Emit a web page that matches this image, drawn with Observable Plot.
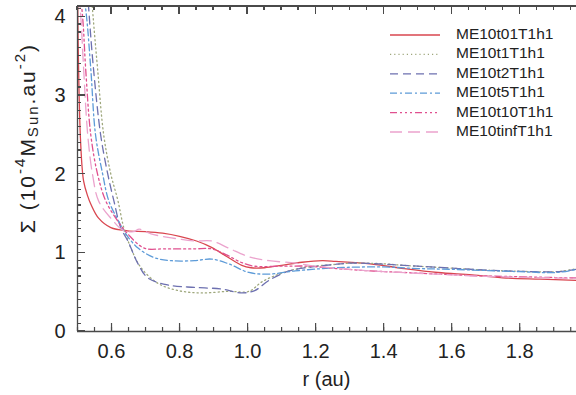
<!DOCTYPE html>
<html><head><meta charset="utf-8">
<script src="https://cdn.jsdelivr.net/npm/d3@7"></script>
<script src="https://cdn.jsdelivr.net/npm/@observablehq/plot@0.6"></script>
<style>body{margin:0;background:#fff} svg{display:block}</style>
</head><body><div id="chart"></div>
<script>
// ---- data (r in au, Sigma in 1e-4 Msun/au^2) ----
const seriesNames = ["ME10t01T1h1","ME10t1T1h1","ME10t2T1h1","ME10t5T1h1","ME10t10T1h1","ME10tinfT1h1"];
const t01 = [[0.500,4.6],[0.502,3.65],[0.509,2.42],[0.518,1.91],[0.530,1.72],[0.539,1.62],[0.562,1.44],[0.598,1.32],[0.647,1.28],[0.700,1.27],[0.750,1.25],[0.800,1.21],[0.850,1.15],[0.894,1.07],[0.940,0.95],[0.983,0.84],[1.010,0.81],[1.050,0.81],[1.100,0.84],[1.160,0.88],[1.220,0.90],[1.260,0.89],[1.360,0.86],[1.460,0.80],[1.560,0.75],[1.660,0.72],[1.760,0.68],[1.860,0.665],[1.967,0.65]];
const t1 = [[0.525,5.2],[0.544,4.1],[0.559,3.34],[0.577,2.5],[0.598,2.0],[0.619,1.66],[0.636,1.32],[0.657,1.06],[0.687,0.81],[0.737,0.61],[0.796,0.52],[0.864,0.49],[0.944,0.51],[1.004,0.51],[1.042,0.63],[1.093,0.73],[1.161,0.81],[1.250,0.85],[1.310,0.87],[1.400,0.86],[1.460,0.84],[1.580,0.81],[1.700,0.78],[1.800,0.765],[1.910,0.76],[1.967,0.80]];
const t2 = [[0.520,5.0],[0.533,4.1],[0.547,3.34],[0.568,2.5],[0.589,2.0],[0.607,1.66],[0.627,1.32],[0.648,1.15],[0.678,0.86],[0.707,0.68],[0.767,0.59],[0.844,0.56],[0.924,0.54],[0.983,0.49],[1.021,0.52],[1.063,0.65],[1.122,0.77],[1.190,0.82],[1.250,0.85],[1.310,0.87],[1.400,0.855],[1.460,0.84],[1.580,0.81],[1.700,0.78],[1.800,0.765],[1.910,0.76],[1.967,0.79]];
const t5 = [[0.505,4.6],[0.524,4.1],[0.539,3.34],[0.553,2.5],[0.574,2.0],[0.592,1.66],[0.621,1.40],[0.642,1.24],[0.678,1.06],[0.725,0.94],[0.776,0.90],[0.844,0.90],[0.894,0.92],[0.944,0.86],[1.004,0.75],[1.063,0.73],[1.140,0.77],[1.260,0.81],[1.400,0.82],[1.500,0.80],[1.600,0.79],[1.800,0.76],[1.910,0.75],[1.967,0.79]];
const t10 = [[0.500,4.6],[0.515,4.0],[0.524,3.34],[0.539,2.5],[0.559,2.0],[0.583,1.66],[0.619,1.40],[0.648,1.24],[0.696,1.06],[0.755,1.05],[0.844,1.05],[0.894,1.05],[0.940,0.97],[0.980,0.88],[1.020,0.83],[1.100,0.83],[1.180,0.83],[1.260,0.80],[1.360,0.77],[1.460,0.75],[1.560,0.73],[1.660,0.71],[1.760,0.70],[1.860,0.69],[1.967,0.68]];
const tinf = [[0.500,4.5],[0.509,4.05],[0.518,3.34],[0.530,2.5],[0.544,2.0],[0.562,1.66],[0.598,1.44],[0.636,1.28],[0.665,1.27],[0.681,1.30],[0.700,1.27],[0.716,1.24],[0.776,1.19],[0.844,1.15],[0.894,1.15],[0.944,1.06],[1.004,0.95],[1.063,0.90],[1.140,0.87],[1.200,0.83],[1.300,0.79],[1.400,0.76],[1.500,0.74],[1.600,0.72],[1.700,0.70],[1.800,0.69],[1.900,0.68],[1.967,0.675]];
const xTicks = [0.6,0.8,1.0,1.2,1.4,1.6,1.8];
const yTicks = [0,1,2,3,4];

// ---- styles ----
const colors = ["#d9464f","#9ea77c","#6d70b0","#5d9bd8","#e0508f","#eba3cd"];
const dashes = [null,"1.2,3","8,5","7,3,2,3","7,3,2,3,2,3,2,3","12,6"];
const seriesData = [t01,t1,t2,t5,t10,tinf];

const xDomain = [0.5, 1.967], yDomain = [0, 4.13];
const W = 576, H = 395, mL = 77, mR = 0, mT = 6, mB = 64;
const plotH = H - mT - mB, plotW = W - mL - mR;
const xMinor = d3.range(0.5, 1.97, 0.05).map(v => +v.toFixed(2));
const yMinor = d3.range(0, 4.11, 0.1).map(v => +v.toFixed(1));
const axisColor = "#4a4a4a";
const font = "Liberation Sans, Arial, Helvetica, sans-serif";
const tk = {stroke: axisColor, strokeWidth: 1.2};

const lineMarks = seriesData.map((d, i) => {
  const o = {x: p => p[0], y: p => p[1], stroke: colors[i], strokeWidth: 1.3, curve: "catmull-rom", clip: true};
  if (dashes[i]) o.strokeDasharray = dashes[i];
  return Plot.line(d, o);
});

const plot = Plot.plot({
  width: W, height: H, marginLeft: mL, marginRight: mR, marginTop: mT, marginBottom: mB,
  x: {domain: xDomain}, y: {domain: yDomain},
  style: {fontFamily: font, background: "#fff", color: "#222"},
  marks: [
    ...lineMarks,
    Plot.tickX(xTicks, {x: d => d, insetTop: plotH - 8, ...tk}),
    Plot.tickX(xMinor, {x: d => d, insetTop: plotH - 4, ...tk}),
    Plot.axisX({ticks: xTicks, tickSize: 0, tickPadding: 12, tickFormat: d3.format(".1f"), fontSize: 20, label: null}),
    Plot.axisY({ticks: yTicks, tickSize: 0, tickPadding: 12, tickFormat: d3.format("d"), fontSize: 20, label: null}),
    Plot.ruleY([yDomain[0]], {stroke: axisColor, strokeWidth: 1.3}),
    Plot.ruleX([xDomain[0]], {stroke: axisColor, strokeWidth: 1.3})
  ]
});

const svg = d3.select(plot);
// remaining frame side and ticks, placed with the plot's own scales
const sx = v => plot.scale("x").apply(v), sy = v => plot.scale("y").apply(v);
const fr = svg.append("g").attr("stroke", axisColor).attr("stroke-width", 1.2).attr("shape-rendering", "crispEdges");
const frameTop = sy(yDomain[1]), frameLeft = sx(xDomain[0]);
fr.append("line").attr("x1", frameLeft).attr("x2", W).attr("y1", frameTop).attr("y2", frameTop);
xTicks.forEach(v => fr.append("line").attr("x1", sx(v)).attr("x2", sx(v)).attr("y1", frameTop).attr("y2", frameTop + 8));
xMinor.forEach(v => fr.append("line").attr("x1", sx(v)).attr("x2", sx(v)).attr("y1", frameTop).attr("y2", frameTop + 4));
yTicks.forEach(v => fr.append("line").attr("x1", frameLeft).attr("x2", frameLeft + 8).attr("y1", sy(v)).attr("y2", sy(v)));
yMinor.forEach(v => fr.append("line").attr("x1", frameLeft).attr("x2", frameLeft + 4).attr("y1", sy(v)).attr("y2", sy(v)));
// x title
svg.append("text").attr("x", mL + plotW / 2).attr("y", 381).attr("text-anchor", "middle")
  .attr("dominant-baseline", "middle").attr("font-family", font).attr("font-size", 20).attr("fill", "#222").text("r (au)");
// y title
const yt = svg.append("text").attr("transform", "translate(29,138) rotate(-90)").attr("text-anchor", "middle")
  .attr("dominant-baseline", "middle").attr("font-family", font).attr("font-size", 21)
  .attr("letter-spacing", 2).attr("fill", "#222");
yt.append("tspan").text("Σ (10");
yt.append("tspan").attr("font-size", 15).attr("dy", -8).text("-4");
yt.append("tspan").attr("dy", 8).text("M");
yt.append("tspan").attr("font-size", 15).attr("dy", 5).text("Sun");
yt.append("tspan").attr("dy", -5).text(".au");
yt.append("tspan").attr("font-size", 15).attr("dy", -8).text("-2");
yt.append("tspan").attr("dy", 8).text(")");
// legend
const lg = svg.append("g").attr("text-anchor", "start");
seriesNames.forEach((name, i) => {
  const ly = 35 + i * 19.4;
  const ln = lg.append("line").attr("x1", 390).attr("x2", 440).attr("y1", ly).attr("y2", ly)
    .attr("stroke", colors[i]).attr("stroke-width", 1.3);
  if (dashes[i]) ln.attr("stroke-dasharray", dashes[i]);
  lg.append("text").attr("x", 456).attr("y", ly).attr("text-anchor", "start").attr("dominant-baseline", "middle")
    .attr("font-family", font).attr("font-size", 15.5).attr("fill", "#222").text(name);
});
document.getElementById("chart").appendChild(plot);
</script>
</body></html>
